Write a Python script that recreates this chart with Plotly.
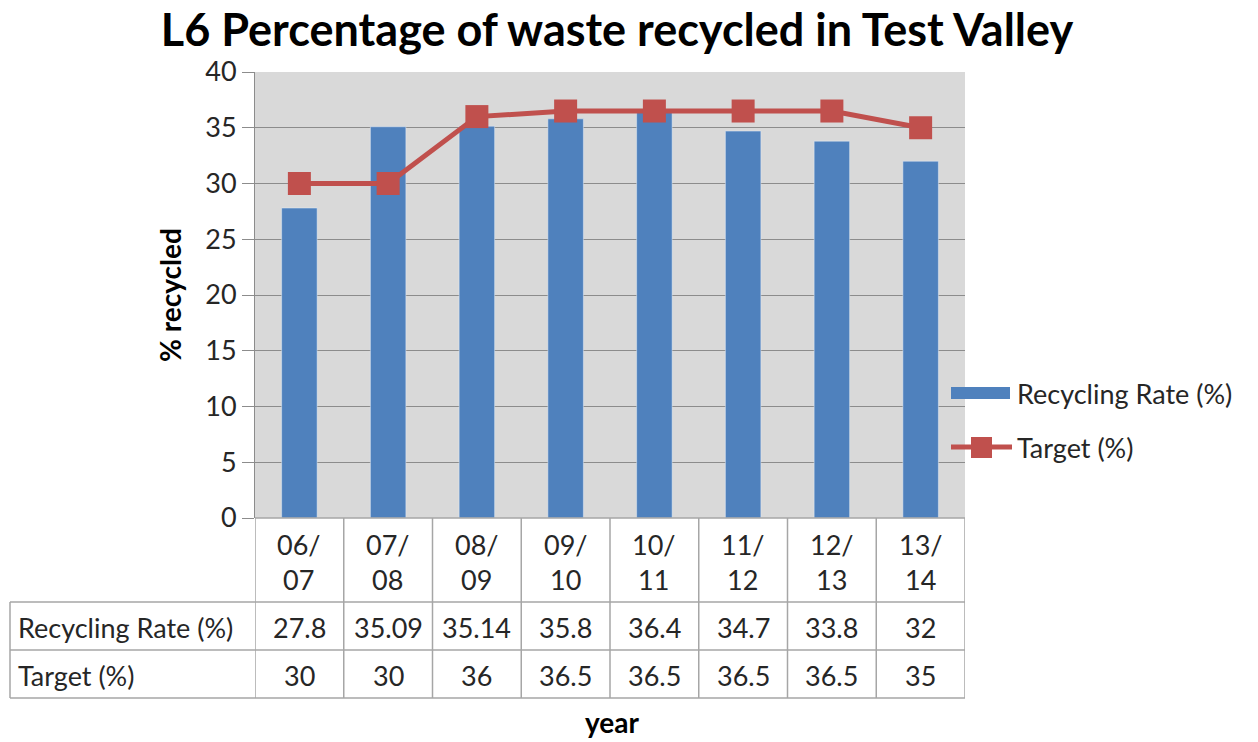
import plotly.graph_objects as go

years = ["06/07", "07/08", "08/09", "09/10", "10/11", "11/12", "12/13", "13/14"]
year_labels = ["06/<br>07", "07/<br>08", "08/<br>09", "09/<br>10", "10/<br>11", "11/<br>12", "12/<br>13", "13/<br>14"]
recycling = [27.8, 35.09, 35.14, 35.8, 36.4, 34.7, 33.8, 32]
target = [30, 30, 36, 36.5, 36.5, 36.5, 36.5, 35]
recycling_text = ["27.8", "35.09", "35.14", "35.8", "36.4", "34.7", "33.8", "32"]
target_text = ["30", "30", "36", "36.5", "36.5", "36.5", "36.5", "35"]
y_ticks = [0, 5, 10, 15, 20, 25, 30, 35, 40]

FONT = "Lato"
BLUE = "#4f81bd"
RED = "#c0504d"
GRID = "#8c8c8c"
TBL = "#a6a6a6"
TXT = "#262626"

OFF = 8  # page body margin
W, H = 1258 - OFF, 742 - OFF
# plot area in screenshot pixels
L, R, T, B = 255, 965, 72, 518
pw, ph = R - L, B - T

def px_x(p):
    return (p - L) / pw

def px_y(p):
    return (B - p) / ph

xs = list(range(len(years)))

fig = go.Figure()
fig.add_trace(go.Bar(x=xs, y=recycling, marker_color=BLUE, width=0.4,
                     name="Recycling Rate (%)", showlegend=False))
fig.add_trace(go.Scatter(x=xs, y=target, mode="lines+markers", name="Target (%)",
                         line=dict(color=RED, width=5),
                         marker=dict(symbol="square", size=23, color=RED),
                         showlegend=False))

shapes = []
annotations = []
FS = 27

row_top = [518, 602, 650, 698]
left_px = 10

shapes.append(dict(type="line", xref="x", yref="paper", x0=-0.5, x1=len(years) - 0.5,
                   y0=px_y(518), y1=px_y(518), line=dict(color=TBL, width=1.5)))
for yy in row_top[1:]:
    shapes.append(dict(type="line", xref="paper", yref="paper", x0=px_x(left_px), x1=1,
                       y0=px_y(yy), y1=px_y(yy), line=dict(color=TBL, width=1.5)))
for i in range(len(years) + 1):
    shapes.append(dict(type="line", xref="x", yref="paper", x0=i - 0.5, x1=i - 0.5,
                       y0=px_y(518), y1=px_y(698), line=dict(color=TBL, width=1.5)))
shapes.append(dict(type="line", xref="paper", yref="paper", x0=px_x(left_px), x1=px_x(left_px),
                   y0=px_y(602), y1=px_y(698), line=dict(color=TBL, width=1.5)))

for i, (lab, rt, tt) in enumerate(zip(year_labels, recycling_text, target_text)):
    annotations.append(dict(x=i, y=px_y(562), xref="x", yref="paper", text=lab, showarrow=False,
                            font=dict(family=FONT, size=FS, color=TXT), yanchor="middle"))
    annotations.append(dict(x=i, y=px_y(627), xref="x", yref="paper", text=rt, showarrow=False,
                            font=dict(family=FONT, size=FS, color=TXT), yanchor="middle"))
    annotations.append(dict(x=i, y=px_y(675), xref="x", yref="paper", text=tt, showarrow=False,
                            font=dict(family=FONT, size=FS, color=TXT), yanchor="middle"))

annotations.append(dict(x=px_x(16), y=px_y(627), xref="paper", yref="paper", text="Recycling Rate (%)",
                        showarrow=False, xanchor="left", yanchor="middle",
                        font=dict(family=FONT, size=FS, color=TXT)))
annotations.append(dict(x=px_x(16), y=px_y(675), xref="paper", yref="paper", text="Target (%)",
                        showarrow=False, xanchor="left", yanchor="middle",
                        font=dict(family=FONT, size=FS, color=TXT)))

annotations.append(dict(x=px_x(170), y=px_y(295), xref="paper", yref="paper", text="<b>% recycled</b>",
                        showarrow=False, textangle=-90, xanchor="center", yanchor="middle",
                        font=dict(family=FONT, size=28, color="#000")))
annotations.append(dict(x=px_x(612), y=px_y(722), xref="paper", yref="paper", text="<b>year</b>",
                        showarrow=False, xanchor="center", yanchor="middle",
                        font=dict(family=FONT, size=28, color="#000")))

# custom legend
shapes.append(dict(type="rect", xref="paper", yref="paper", x0=px_x(951), x1=px_x(1010),
                   y0=px_y(399), y1=px_y(387), fillcolor=BLUE, line=dict(width=0)))
shapes.append(dict(type="line", xref="paper", yref="paper", x0=px_x(951), x1=px_x(1012),
                   y0=px_y(447), y1=px_y(447), line=dict(color=RED, width=5)))
shapes.append(dict(type="rect", xref="paper", yref="paper", x0=px_x(971), x1=px_x(992),
                   y0=px_y(458), y1=px_y(437), fillcolor=RED, line=dict(width=0)))
annotations.append(dict(x=px_x(1015), y=px_y(393), xref="paper", yref="paper", text="Recycling Rate (%)",
                        showarrow=False, xanchor="left", yanchor="middle",
                        font=dict(family=FONT, size=FS, color=TXT)))
annotations.append(dict(x=px_x(1015), y=px_y(447), xref="paper", yref="paper", text="Target (%)",
                        showarrow=False, xanchor="left", yanchor="middle",
                        font=dict(family=FONT, size=FS, color=TXT)))

fig.update_layout(
    width=W, height=H,
    margin=dict(l=L - OFF, r=W - (R - OFF), t=T - OFF, b=H - (B - OFF), pad=0),
    paper_bgcolor="white",
    plot_bgcolor="#d9d9d9",
    title=dict(text="<b>L6 Percentage of waste recycled in Test Valley</b>",
               x=(617 - OFF) / W, xanchor="center", y=1 - (30 - OFF) / H, yanchor="middle",
               font=dict(family=FONT, size=45, color="#000")),
    xaxis=dict(range=[-0.5, len(years) - 0.5], showticklabels=False, showgrid=False,
               zeroline=False, showline=False, ticks=""),
    yaxis=dict(range=[0, 40], tickvals=y_ticks, showgrid=True, gridcolor=GRID, gridwidth=1,
               zeroline=False, showline=True, linecolor=GRID, linewidth=1,
               ticks="outside", ticklen=12, tickcolor=GRID,
               tickfont=dict(family=FONT, size=FS, color=TXT)),
    shapes=shapes,
    annotations=annotations,
    bargap=0.6,
)

fig.write_html("out.html")
